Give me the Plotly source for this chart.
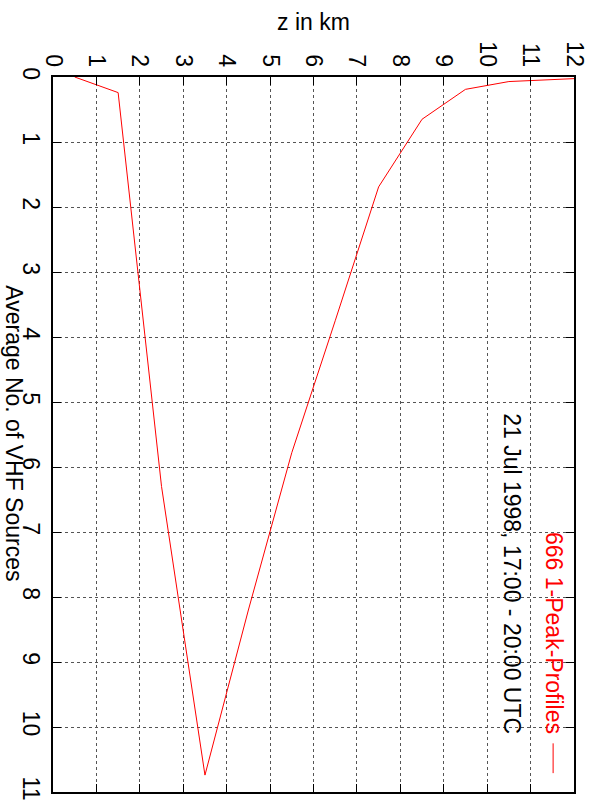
import plotly.graph_objects as go

# Data
z_km = [0.5, 1.5, 2.5, 3.5, 4.5, 5.5, 6.5, 7.5, 8.5, 9.5, 10.5, 11.5, 12.5]
avg_sources = [0.0, 0.24, 6.3, 10.74, 8.2, 5.78, 3.75, 1.69, 0.65, 0.19, 0.07, 0.04, 0.01]

x_ticks = list(range(0, 13))
y_ticks = list(range(0, 12))

series_label = "666 1-Peak-Profiles"
date_label = "21 Jul 1998, 17:00 - 20:00 UTC"
x_title = "z in km"
y_title = "Average No. of VHF Sources"

FONT = "Liberation Sans, Arial, sans-serif"
FS = 23

fig = go.Figure()
fig.add_trace(go.Scatter(
    x=z_km, y=avg_sources, mode="lines",
    line=dict(color="#ff0000", width=1),
    showlegend=False, hoverinfo="skip",
))

W, H = 600, 812
L, R, T, B = 53, 23, 77, 15
pw, ph = W - L - R, H - T - B

def px_to_paper(px, py):
    return (px - L) / pw, (H - B - py) / ph

axis_common = dict(
    showline=True, linecolor="black", linewidth=2, mirror="allticks",
    ticks="inside", ticklen=8, tickcolor="black", tickwidth=1,
    showgrid=True, gridcolor="#555555", gridwidth=1, griddash="dot",
    zeroline=False, tickangle=90,
    tickfont=dict(family=FONT, size=FS, color="black"),
)

fig.update_xaxes(
    range=[0, 12], side="top", tickmode="array", tickvals=x_ticks,
    ticktext=[str(v) for v in x_ticks], **axis_common,
)
fig.update_yaxes(
    range=[11, 0], tickmode="array", tickvals=y_ticks,
    ticktext=[str(v) for v in y_ticks], **axis_common,
)

ann = []
# x axis title (horizontal)
ax, ay = px_to_paper(315, 22)
ann.append(dict(text=x_title, x=ax, y=ay, xref="paper", yref="paper",
                xanchor="center", yanchor="middle", showarrow=False,
                font=dict(family=FONT, size=FS, color="black")))
# y axis title (rotated, reads top to bottom)
ax, ay = px_to_paper(14, 436)
ann.append(dict(text=y_title, x=ax, y=ay, xref="paper", yref="paper",
                xanchor="center", yanchor="middle", showarrow=False, textangle=90,
                font=dict(family=FONT, size=FS, color="black")))
# date label
ax, ay = px_to_paper(515, 577)
ann.append(dict(text=date_label, x=ax, y=ay, xref="paper", yref="paper",
                xanchor="center", yanchor="middle", showarrow=False, textangle=90,
                font=dict(family=FONT, size=FS, color="black")))
# series label
ax, ay = px_to_paper(557, 637)
ann.append(dict(text=series_label, x=ax, y=ay, xref="paper", yref="paper",
                xanchor="center", yanchor="middle", showarrow=False, textangle=90,
                font=dict(family=FONT, size=FS, color="#ff0000")))

# key sample line next to the series label
sx0, sy0 = px_to_paper(556, 748)
sx1, sy1 = px_to_paper(556, 778)
fig.add_shape(type="line", xref="paper", yref="paper",
              x0=sx0, y0=sy0, x1=sx1, y1=sy1,
              line=dict(color="#ff0000", width=1))

fig.update_layout(
    width=W, height=H,
    margin=dict(l=L, r=R, t=T, b=B),
    paper_bgcolor="white", plot_bgcolor="white",
    annotations=ann,
    font=dict(family=FONT, size=FS, color="black"),
)

fig.write_html("out.html")
